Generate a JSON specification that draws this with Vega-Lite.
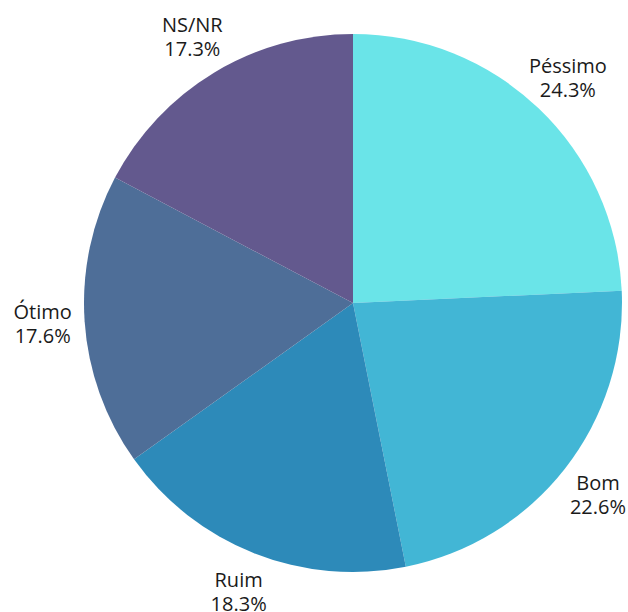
{
  "$schema": "https://vega.github.io/schema/vega-lite/v6.json",
  "autosize": "none",
  "width": 550,
  "height": 606,
  "padding": {"left": 78, "top": 0, "right": 0, "bottom": 6},
  "background": "white",
  "data": {
    "values": [
      {"categoria": "Péssimo", "valor": 24.3, "ordem": 1, "rotulo": "Péssimo\n24.3%"},
      {"categoria": "Bom", "valor": 22.6, "ordem": 2, "rotulo": "Bom\n22.6%"},
      {"categoria": "Ruim", "valor": 18.3, "ordem": 3, "rotulo": "Ruim\n18.3%"},
      {"categoria": "Ótimo", "valor": 17.6, "ordem": 4, "rotulo": "Ótimo\n17.6%"},
      {"categoria": "NS/NR", "valor": 17.3, "ordem": 5, "rotulo": "NS/NR\n17.3%"}
    ]
  },
  "encoding": {
    "theta": {"field": "valor", "type": "quantitative", "stack": true},
    "order": {"field": "ordem", "type": "quantitative"},
    "color": {
      "field": "categoria",
      "type": "nominal",
      "scale": {
        "domain": ["Péssimo", "Bom", "Ruim", "Ótimo", "NS/NR"],
        "range": ["#6ae4e8", "#42b6d5", "#2d8ab9", "#4e6e98", "#63598e"]
      },
      "legend": null
    }
  },
  "layer": [
    {
      "mark": {"type": "arc", "outerRadius": 269}
    },
    {
      "mark": {
        "type": "text",
        "radius": 311,
        "dy": -11,
        "fontSize": 20,
        "font": "Open Sans",
        "lineBreak": "\n",
        "lineHeight": 24,
        "align": "center",
        "baseline": "middle",
        "color": "#1a1a1a"
      },
      "encoding": {
        "text": {"field": "rotulo", "type": "nominal"},
        "color": {"value": "#1a1a1a"}
      }
    }
  ]
}
